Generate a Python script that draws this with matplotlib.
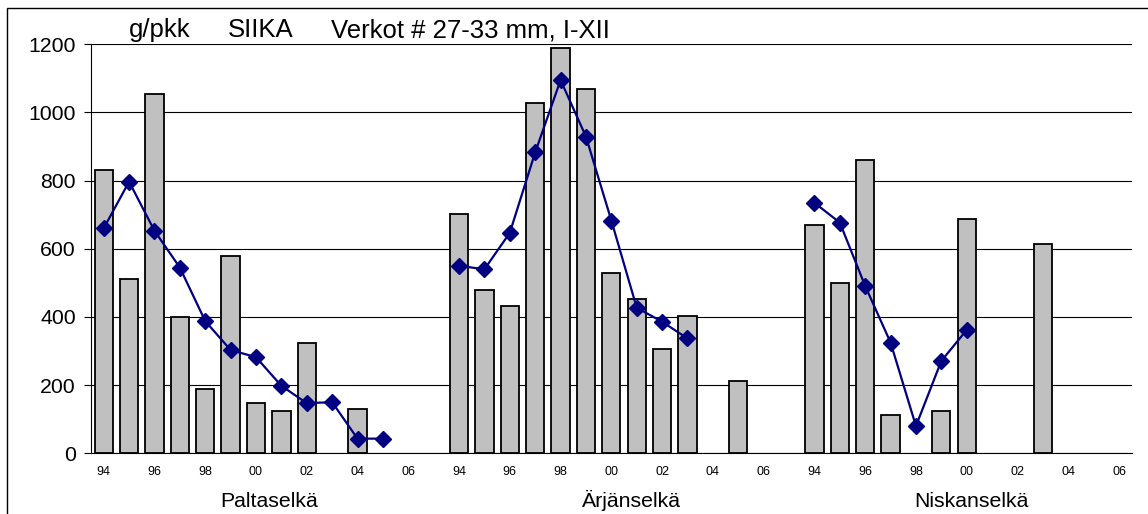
import numpy as np
import matplotlib
matplotlib.use("Agg")
import matplotlib.pyplot as plt
import matplotlib.transforms as mtransforms
from matplotlib.patches import Rectangle

plt.rcParams['font.family'] = ['Liberation Sans', 'DejaVu Sans']

years = ['94', '95', '96', '97', '98', '99', '00', '01', '02', '03', '04', '05', '06']
areas = ['Paltaselkä', 'Ärjänselkä', 'Niskanselkä']

nan = np.nan
bars_palta = [831, 512, 1053, 401, 189, 578, 148, 124, 324, nan, 131, nan, nan]
bars_arjan = [703, 480, 432, 1029, 1190, 1068, 528, 452, 305, 404, nan, 213, nan]
bars_niskan = [669, 500, 861, 113, nan, 125, 688, nan, nan, 613, nan, nan, nan]

line_palta = [660, 797, 653, 545, 388, 303, 282, 198, 147, 150, 43, 43, nan]
line_arjan = [550, 540, 647, 883, 1095, 929, 683, 427, 386, 337, nan, nan, nan]
line_niskan = [735, 677, 491, 325, 80, 271, 362, nan, nan, nan, nan, nan, nan]

title_parts = ['g/pkk', 'SIIKA', 'Verkot # 27-33 mm, I-XII']

bar_groups = [bars_palta, bars_arjan, bars_niskan]
line_groups = [line_palta, line_arjan, line_niskan]

W, H = 1148, 514
fig = plt.figure(figsize=(W / 100, H / 100), dpi=100)
ax = fig.add_axes([91 / W, 1 - 453.3 / H, (1131.7 - 91) / W, (453.3 - 44.3) / H])

n = len(years)
step = n + 1
tick_pos, tick_lab = [], []
for g, (bv, lv) in enumerate(zip(bar_groups, line_groups)):
    x = np.arange(n) + g * step
    ax.bar(x, bv, width=0.72, color='#C0C0C0', edgecolor='black', linewidth=1.3, zorder=2)
    ax.plot(x, lv, color='#000080', linewidth=1.6, marker='D', markersize=8,
            markerfacecolor='#000080', markeredgecolor='#000080', zorder=3)
    for i in range(0, n, 2):
        tick_pos.append(x[i])
        tick_lab.append(years[i])

ax.set_xlim(-0.5, 3 * step - 1.5)
ax.set_ylim(0, 1200)
ax.set_yticks(range(0, 1201, 200))
ax.tick_params(axis='y', labelsize=15.3, length=5, width=0.8, pad=6, direction='out')
ax.set_xticks(tick_pos)
ax.set_xticklabels(tick_lab)
ax.tick_params(axis='x', labelsize=9, length=0, pad=9)

ax.yaxis.grid(True, color='black', linewidth=0.8)
ax.set_axisbelow(True)
for s in ['top', 'right']:
    ax.spines[s].set_visible(False)
ax.spines['left'].set_linewidth(0.8)
ax.spines['bottom'].set_linewidth(0.8)

trans = mtransforms.blended_transform_factory(ax.transData, ax.transAxes)
label_x = [6.5, 20.8, 34.2]
for name, lx in zip(areas, label_x):
    ax.text(lx, (453.3 - 507.3) / 409.0, name, transform=trans, ha='center', va='baseline',
            fontsize=15.3)

title_x = [129, 228, 331]
for t, tx in zip(title_parts, title_x):
    fig.text(tx / W, 1 - 37.2 / H, t, ha='left', va='baseline', fontsize=18.5)

fig.patches.append(Rectangle((7 / W, -0.5), 2, 0.5 + (1 - 8 / H), transform=fig.transFigure,
                             fill=False, edgecolor='black', linewidth=1.0))

fig.savefig('out.png', dpi=100, facecolor='white')
